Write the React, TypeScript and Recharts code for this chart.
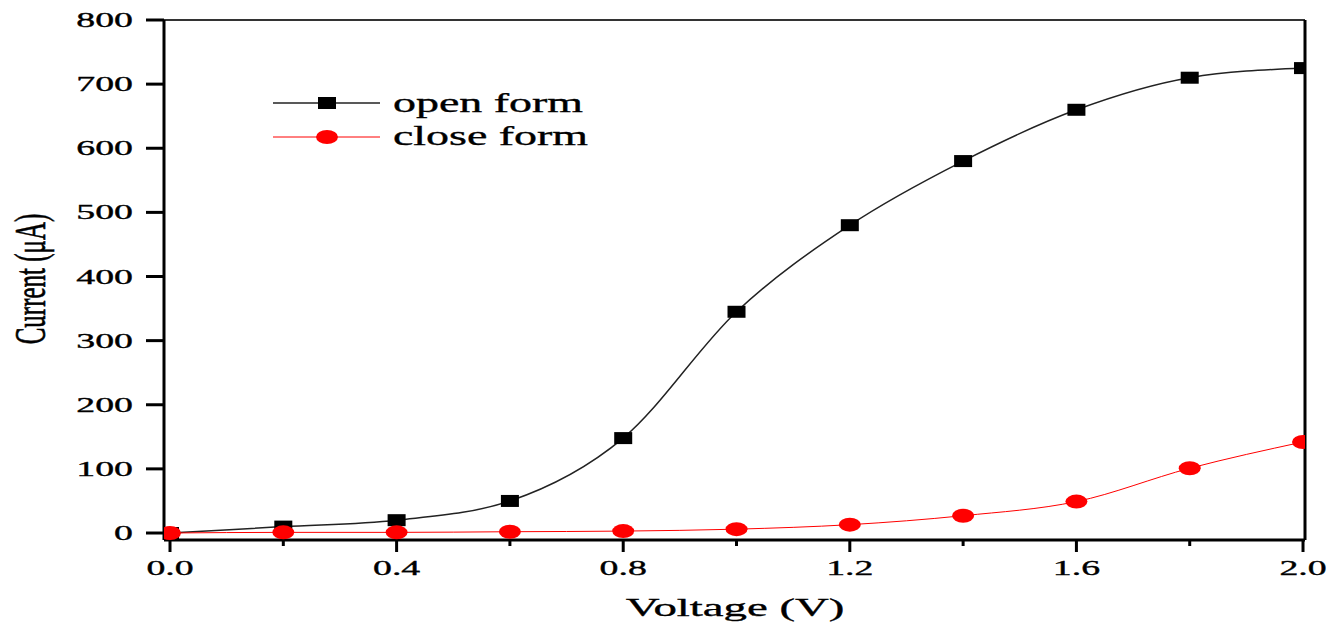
import React from "react";
import {
  LineChart,
  Line,
  XAxis,
  YAxis,
  ReferenceLine,
} from "recharts";

// Voltage (V) sweep
const voltage = [0, 0.2, 0.4, 0.6, 0.8, 1.0, 1.2, 1.4, 1.6, 1.8, 2.0];
// Current (uA) for each form
const openForm = [0, 10, 20, 50, 148, 345, 480, 580, 660, 710, 725];
const closeForm = [0, 1, 1, 2, 3, 6, 13, 27, 49, 101, 142];

const seriesNames = ["open form", "close form"];

const xTicks = [0, 0.2, 0.4, 0.6, 0.8, 1.0, 1.2, 1.4, 1.6, 1.8, 2.0];
const xLabelled = [0, 0.4, 0.8, 1.2, 1.6, 2.0];
const yTicks = [0, 100, 200, 300, 400, 500, 600, 700, 800];

const X_DOMAIN: [number, number] = [-0.0106, 2.0035];
const Y_DOMAIN: [number, number] = [-10.9, 800];

const data = voltage.map((v, i) => ({
  v,
  open: openForm[i],
  close: closeForm[i],
}));

const SERIF = "'Liberation Serif', 'DejaVu Serif', serif";
// a thin outline makes the stretched glyphs look like the heavier original
const textStyle = { fill: "#000", stroke: "#000", strokeWidth: 0.35 };

const XTick = (props: any) => {
  const { x, y, payload } = props;
  const major = xLabelled.some((t) => Math.abs(t - payload.value) < 1e-6);
  return (
    <g>
      <line x1={x} x2={x} y1={y} y2={y + (major ? 12 : 6)} stroke="#000" strokeWidth={3} />
      {major && (
        <text
          transform={`translate(${x},${y + 35}) scale(1.8,1)`}
          textAnchor="middle"
          fontFamily={SERIF}
          fontSize={21}
          {...textStyle}
        >
          {payload.value.toFixed(1)}
        </text>
      )}
    </g>
  );
};

const YTick = (props: any) => {
  const { x, y, payload } = props;
  return (
    <g>
      <line x1={x - 18} x2={x} y1={y} y2={y} stroke="#000" strokeWidth={3} />
      <text
        transform={`translate(${x - 31},${y + 7}) scale(1.8,1)`}
        textAnchor="end"
        fontFamily={SERIF}
        fontSize={21}
        {...textStyle}
      >
        {payload.value}
      </text>
    </g>
  );
};

const SquareDot = (props: any) => {
  const { cx, cy, index } = props;
  if (cx == null || cy == null) return <g key={`s-${index}`} />;
  return <rect key={`s-${index}`} x={cx - 9} y={cy - 6} width={18} height={12} fill="#000" />;
};

const CircleDot = (props: any) => {
  const { cx, cy, index } = props;
  if (cx == null || cy == null) return <g key={`c-${index}`} />;
  return <ellipse key={`c-${index}`} cx={cx} cy={cy} rx={11} ry={7} fill="#ff0000" />;
};

export default function App() {
  return (
    <div style={{ position: "absolute", left: 0, top: 0, width: 1331, height: 624, background: "#fff" }}>
      <LineChart
        width={1331}
        height={624}
        data={data}
        margin={{ top: 20, right: 26, left: 0, bottom: 0 }}
      >
        <XAxis
          dataKey="v"
          type="number"
          domain={X_DOMAIN}
          ticks={xTicks}
          allowDataOverflow
          height={84}
          tickSize={0}
          tickMargin={0}
          tickLine={false}
          tick={<XTick />}
          axisLine={{ stroke: "#000", strokeWidth: 3 }}
          interval={0}
        />
        <YAxis
          type="number"
          domain={Y_DOMAIN}
          ticks={yTicks}
          allowDataOverflow
          width={164}
          tickSize={0}
          tickMargin={0}
          tickLine={false}
          tick={<YTick />}
          axisLine={{ stroke: "#000", strokeWidth: 3 }}
          interval={0}
        />
        <ReferenceLine y={800} stroke="#333" strokeWidth={2} />
        <ReferenceLine x={X_DOMAIN[1]} stroke="#000" strokeWidth={3} />
        <Line
          type="monotone"
          dataKey="open"
          name={seriesNames[0]}
          stroke="#222"
          strokeWidth={1.5}
          dot={SquareDot}
          activeDot={false}
          isAnimationActive={false}
        />
        <Line
          type="monotone"
          dataKey="close"
          name={seriesNames[1]}
          stroke="#ff0000"
          strokeWidth={1}
          dot={CircleDot}
          activeDot={false}
          isAnimationActive={false}
        />
        {/* legend */}
        <g transform="translate(273,86)">
          <line x1={0} x2={107} y1={17} y2={17} stroke="#222" strokeWidth={1.5} />
          <rect x={45} y={11} width={18} height={12} fill="#000" />
          <text
            transform="translate(120,26) scale(1.7,1)"
            fontFamily={SERIF}
            fontSize={27}
            {...textStyle}
          >
            {seriesNames[0]}
          </text>
          <line x1={0} x2={107} y1={51} y2={51} stroke="#ff0000" strokeWidth={1} />
          <ellipse cx={54} cy={51} rx={11} ry={7} fill="#ff0000" />
          <text
            transform="translate(120,59) scale(1.7,1)"
            fontFamily={SERIF}
            fontSize={27}
            {...textStyle}
          >
            {seriesNames[1]}
          </text>
        </g>
        <text
          transform="translate(45,279) scale(1.8,1) rotate(-90)"
          textAnchor="middle"
          fontFamily={SERIF}
          fontSize={25}
          {...textStyle}
        >
          Current (μA)
        </text>
        <text
          transform="translate(735,616) scale(1.8,1)"
          textAnchor="middle"
          fontFamily={SERIF}
          fontSize={26}
          {...textStyle}
        >
          Voltage (V)
        </text>
      </LineChart>
    </div>
  );
}
